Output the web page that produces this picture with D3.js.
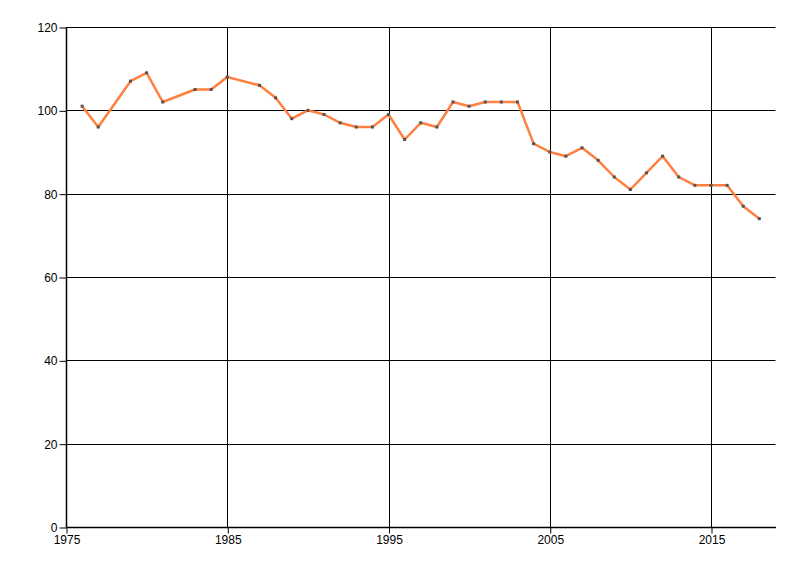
<!DOCTYPE html>
<html><head><meta charset="utf-8">
<script src="https://cdn.jsdelivr.net/npm/d3@7"></script>
<style>body{margin:0;background:#fff}svg{display:block}text{font-family:"Liberation Sans Narrow","Liberation Sans",Arial,sans-serif;font-size:12px;fill:#000}</style>
</head><body>
<svg id="c" width="800" height="576"></svg>
<script>
const years = [1976,1977,1979,1980,1981,1983,1984,1985,1987,1988,1989,1990,1991,1992,1993,1994,1995,1996,1997,1998,1999,2000,2001,2002,2003,2004,2005,2006,2007,2008,2009,2010,2011,2012,2013,2014,2015,2016,2017,2018];
const values = [101,96,107,109,102,105,105,108,106,103,98,100,99,97,96,96,99,93,97,96,102,101,102,102,102,92,90,89,91,88,84,81,85,89,84,82,82,82,77,74];
const xTicks = [1975,1985,1995,2005,2015];
const yTicks = [0,20,40,60,80,100,120];

const svg = d3.select("#c");
const x = d3.scaleLinear().domain([1975,2019]).range([66,775.5]);
const y = d3.scaleLinear().domain([0,120]).range([527,27]);
const data = years.map((yr,i)=>({yr,v:values[i]}));

const g = svg.append("g");
// grid
g.selectAll(".hg").data(yTicks.filter(d=>d>0)).join("line")
  .attr("x1",x(1975)).attr("x2",x(2019)).attr("y1",d=>Math.round(y(d))+0.5).attr("y2",d=>Math.round(y(d))+0.5)
  .attr("stroke","#000").attr("stroke-width",1);
g.selectAll(".vg").data(xTicks.filter(d=>d>1975)).join("line")
  .attr("x1",d=>Math.round(x(d))+0.5).attr("x2",d=>Math.round(x(d))+0.5).attr("y1",y(120)).attr("y2",y(0))
  .attr("stroke","#000").attr("stroke-width",1);

// axes
const yAxis = d3.axisLeft(y).tickValues(yTicks).tickSize(7).tickPadding(2).tickFormat(d3.format("d"));
const ya = svg.append("g").attr("transform",`translate(${Math.round(x(1975))+0.5},0.5)`).call(yAxis);
const xAxis = d3.axisBottom(x).tickValues(xTicks).tickSize(6).tickPadding(2).tickFormat(d3.format("d"));
const xa = svg.append("g").attr("transform",`translate(0.5,${Math.round(y(0))+0.5})`).call(xAxis);
[ya,xa].forEach(a=>{a.select(".domain").attr("stroke","#000").attr("stroke-width",1.5);a.selectAll("line").attr("stroke","#000");a.selectAll("text").attr("fill","#000").style("font-size","12px");});
ya.select(".domain").attr("d",`M0,${y(0)}V${y(120)}`);
xa.select(".domain").attr("d",`M${x(1975)},0H${x(2019)}`);

// line
svg.append("path").datum(data)
  .attr("d",d3.line().x(d=>x(d.yr)).y(d=>y(d.v)))
  .attr("fill","none").attr("stroke","#ff8040").attr("stroke-width",2.5).attr("stroke-linejoin","round");
svg.selectAll(".m").data(data).join("rect")
  .attr("x",d=>x(d.yr)-1.5).attr("y",d=>y(d.v)-1.5).attr("width",3).attr("height",3).attr("fill","#555");
</script>
</body></html>
